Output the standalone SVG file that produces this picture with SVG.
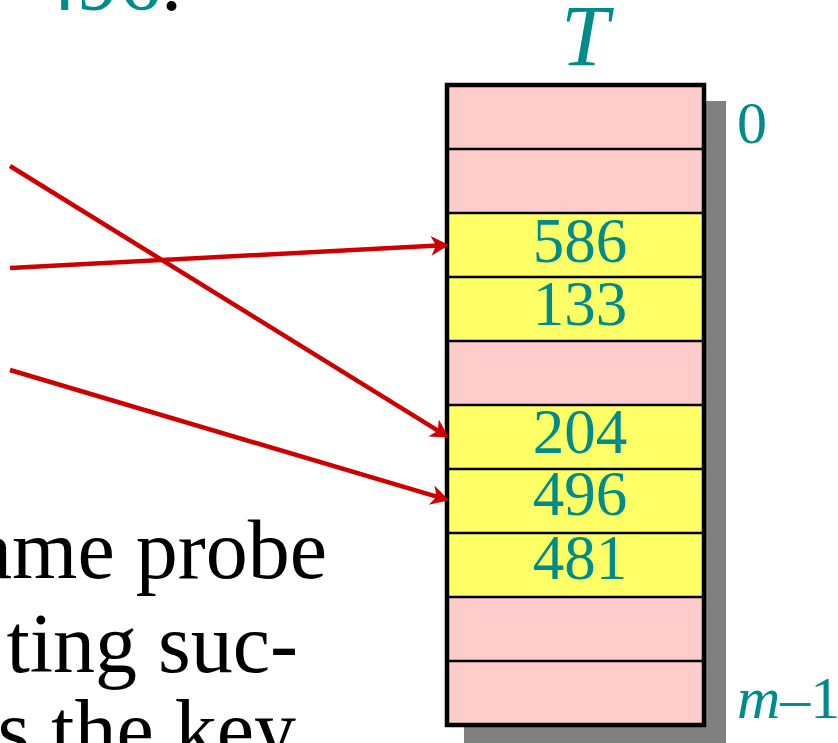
<svg xmlns="http://www.w3.org/2000/svg" width="838" height="743" viewBox="0 0 838 743">
<style>
.serif{font-family:"Liberation Serif","Times New Roman",serif}
.teal{fill:#008B8B}
.num{font-family:"Liberation Serif","Times New Roman",serif;fill:#008B8B;font-size:63px;text-anchor:middle}
.body{font-family:"Liberation Serif","Times New Roman",serif;fill:#000;font-size:84px;text-anchor:end}
.pink{fill:#FFCCCC}
.yellow{fill:#FFFF66}
.div{stroke:#000;stroke-width:2.5}
.arrow{stroke:#CC0000;stroke-width:4.5;fill:none;marker-end:url(#ah)}
</style>
<defs>
<marker id="ah" markerUnits="userSpaceOnUse" viewBox="-10 -12 24 24" refX="0" refY="0" markerWidth="24" markerHeight="24" orient="auto">
<path d="M11,0 L-7,-10 L-2,0 L-7,10 Z" fill="#CC0000"/>
</marker>
</defs>
<rect width="838" height="743" fill="#fff"/>
<g id="top-text">
<text class="serif" x="182" y="10" font-size="84" text-anchor="end"><tspan class="teal">496</tspan><tspan fill="#000">.</tspan></text>
</g>
<g id="body-text">
<text class="body" x="327" y="578">ame probe</text>
<text class="body" x="298" y="672">ting suc-</text>
<text class="body" x="296" y="758">s the key</text>
</g>
<g id="table-T">
<rect x="464" y="101" width="262" height="645" fill="#808080"/>
<rect class="pink" x="447" y="85" width="257" height="64"/>
<rect class="pink" x="447" y="149" width="257" height="64"/>
<rect class="yellow" x="447" y="213" width="257" height="64"/>
<rect class="yellow" x="447" y="277" width="257" height="64"/>
<rect class="pink" x="447" y="341" width="257" height="64"/>
<rect class="yellow" x="447" y="405" width="257" height="64"/>
<rect class="yellow" x="447" y="469" width="257" height="64"/>
<rect class="yellow" x="447" y="533" width="257" height="64"/>
<rect class="pink" x="447" y="597" width="257" height="64"/>
<rect class="pink" x="447" y="661" width="257" height="64"/>
<line class="div" x1="447" y1="149" x2="704" y2="149"/>
<line class="div" x1="447" y1="213" x2="704" y2="213"/>
<line class="div" x1="447" y1="277" x2="704" y2="277"/>
<line class="div" x1="447" y1="341" x2="704" y2="341"/>
<line class="div" x1="447" y1="405" x2="704" y2="405"/>
<line class="div" x1="447" y1="469" x2="704" y2="469"/>
<line class="div" x1="447" y1="533" x2="704" y2="533"/>
<line class="div" x1="447" y1="597" x2="704" y2="597"/>
<line class="div" x1="447" y1="661" x2="704" y2="661"/>
<rect x="447" y="85" width="257" height="640" fill="none" stroke="#000" stroke-width="4.5"/>
<text class="num" x="580" y="262">586</text>
<text class="num" x="580" y="325">133</text>
<text class="num" x="580" y="453">204</text>
<text class="num" x="580" y="515">496</text>
<text class="num" x="580" y="579">481</text>
<text class="serif teal" x="585" y="65" font-size="86" font-style="italic" text-anchor="middle">T</text>
<text class="serif teal" x="737" y="143" font-size="60">0</text>
<text class="serif teal" x="737" y="718" font-size="60"><tspan font-style="italic">m</tspan>–1</text>
</g>
<g id="connectors">
<line class="arrow" x1="10" y1="166" x2="439.5" y2="431.7"/>
<line class="arrow" x1="10" y1="268" x2="438" y2="245.5"/>
<line class="arrow" x1="10" y1="370" x2="438.4" y2="497.2"/>
</g>
</svg>
